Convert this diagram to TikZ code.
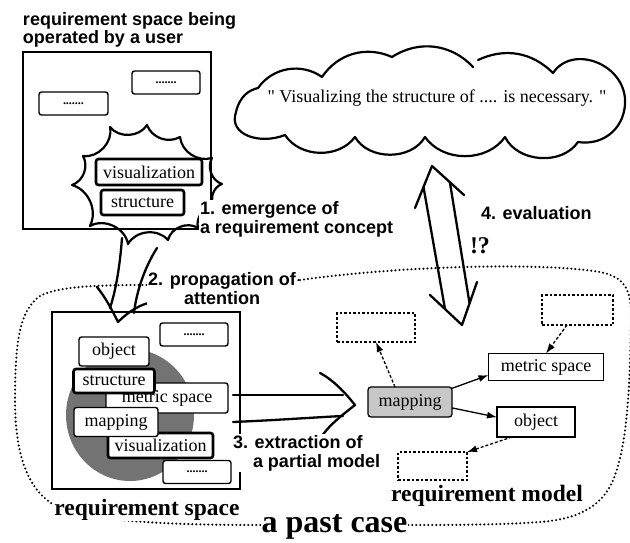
\documentclass[tikz,border=0pt]{standalone}
\usepackage{fontspec}
\setmainfont{Liberation Serif}
\setsansfont{Liberation Sans}
\newfontfamily\quotefont{Liberation Serif}
\usetikzlibrary{arrows.meta}
\begin{document}
\begin{tikzpicture}[x=1pt,y=-1pt,
  every node/.style={inner sep=0pt,outer sep=0pt},
  txt/.style={font=\fontsize{18}{18}\selectfont},
  rbox/.style={txt,draw,line width=1.4pt,rounded corners=2.5pt,fill=white},
  rboxthick/.style={rbox,line width=2.6pt},
  dotbox/.style={rbox,font=\bfseries\fontsize{12}{12}\selectfont},
  bigframe/.style={draw,line width=2.6pt},
  hand/.style={draw,line width=2.3pt,line cap=round,line join=round},
  lbl/.style={font=\sffamily\bfseries\fontsize{18}{19}\selectfont,fill=white,inner sep=1pt},
  mbox/.style={txt,draw,line width=1.3pt,fill=white},
  dbox/.style={draw,line width=1.3pt,dash pattern=on 2.5pt off 2pt},
  marrow/.style={line width=1.3pt,-{Latex[length=10pt,width=7pt]}},
  darrow/.style={marrow,dash pattern=on 3pt off 2pt},
  pastline/.style={line width=2.3pt,dash pattern=on 0pt off 4pt,line cap=round},
  biglbl/.style={font=\bfseries\fontsize{23.5}{23.5}\selectfont},
]
\useasboundingbox (0,0) rectangle (630,543);

% a past case dotted loop
\draw[pastline] (300,280) .. controls (400,266) and (540,262) .. (600,272)
  .. controls (625,277) and (632,290) .. (631,320)
  .. controls (630,380) and (628,440) .. (615,475)
  .. controls (605,505) and (580,519) .. (540,522)
  .. controls (500,525) and (450,525) .. (400,525) -- (265,525)
  .. controls (200,525) and (120,524) .. (70,512)
  .. controls (30,500) and (15,460) .. (15,400)
  .. controls (15,340) and (20,310) .. (40,296)
  .. controls (60,285) and (110,285) .. (155,285) -- cycle;

% cloud
\draw[hand,line width=2.2pt] (258,88) to[bend left=45] (322,77) to[bend left=40] (392,57) to[bend left=40] (473,67);
\draw[hand,line width=2.2pt] (478,60) to[bend left=35] (553,73)
  .. controls (575,40) and (640,70) .. (622,118)
  .. controls (615,135) and (598,145) .. (578,142)
  to[bend left=60] (505,137) to[bend left=55] (425,137) to[bend left=60] (355,137) to[bend left=55] (285,135)
  .. controls (260,145) and (228,135) .. (236,112)
  .. controls (240,95) and (250,90) .. (258,88);
\node[font=\quotefont\fontsize{18}{18}\selectfont] (ctext) at (437,98) {" Visualizing the structure of .... is necessary. "};

% requirement space operated by a user
\node[bigframe,minimum width=188pt,minimum height=177pt] (opbox) at (117,140.5) {};
\node[dotbox,minimum width=69pt,minimum height=23pt] (od1) at (73.5,103.5) {.......};
\node[dotbox,minimum width=68pt,minimum height=23pt] (od2) at (166,82.5) {.......};
\draw[hand,line width=2.2pt] (110,127) to[bend right=55] (147,125) to[bend right=50] (180,137)
  to[bend right=50] (212,158) to[bend right=50] (222,184) to[bend right=50] (214,206)
  to[bend right=50] (198,228) to[bend right=55] (168,240) to[bend right=55] (128,244)
  to[bend right=55] (90,226) to[bend right=50] (72,185) to[bend right=50] (83,156)
  to[bend right=55] (110,127) -- cycle;
\node[rboxthick,minimum width=106pt,minimum height=26pt] (bvis) at (149,172) {visualization};
\node[rboxthick,minimum width=83pt,minimum height=25pt] (bstr) at (142.5,202.5) {structure};

% propagation arrow
\coordinate (pa1) at (122,238); \coordinate (pa2) at (110,308);
\coordinate (pb1) at (157,248); \coordinate (pb2) at (134,313);
\coordinate (ph1) at (97,287); \coordinate (ptip) at (118,322); \coordinate (ph2) at (153,302);
\draw[hand] (pa1) .. controls (120,265) and (116,290) .. (pa2);
\draw[hand] (pb1) .. controls (143,270) and (136,295) .. (pb2);
\draw[hand] (ph1) .. controls (106,298) and (113,312) .. (ptip) .. controls (128,312) and (140,304) .. (ph2);

% requirement space
\node[bigframe,minimum width=188pt,minimum height=177pt] (rsbox) at (146,400.5) {};
\fill[black!55] (130,415) ellipse [x radius=64pt, y radius=66pt];
\node[dotbox,minimum width=68pt,minimum height=23pt] (rd1) at (194,334.5) {.......};
\node[rbox,minimum width=70pt,minimum height=29pt] (robj) at (114,351.5) {object};
\node[rbox,minimum width=122pt,minimum height=30pt] (rmet) at (167,398) {metric space};
\node[rboxthick,minimum width=81pt,minimum height=24pt] (rstr) at (114,381) {structure};
\node[rboxthick,minimum width=105pt,minimum height=25pt] (rvis) at (160.5,445.5) {visualization};
\node[rbox,minimum width=84pt,minimum height=29pt] (rmap) at (116,422) {mapping};
\node[dotbox,minimum width=68pt,minimum height=23pt] (rd2) at (197,472) {.......};

% extraction arrow
\coordinate (ea1) at (233,395); \coordinate (ea2) at (343,395);
\coordinate (eb1) at (233,422); \coordinate (eb2) at (343,416);
\coordinate (eh1) at (320,373); \coordinate (etip) at (355,405); \coordinate (eh2) at (322,436);
\draw[hand] (ea1) -- (ea2);
\draw[hand] (eb1) .. controls (280,420) and (320,417) .. (eb2);
\draw[hand] (eh1) .. controls (335,381) and (347,395) .. (etip) .. controls (345,413) and (330,424) .. (eh2);

% requirement model
\node[mbox,rounded corners=3pt,fill=black!22,minimum width=84pt,minimum height=30pt] (mmap) at (410,402) {mapping};
\node[mbox,minimum width=115pt,minimum height=27pt] (mmet) at (546,367) {metric space};
\node[mbox,minimum width=78pt,minimum height=30pt] (mobj) at (536,422) {object};
\node[dbox,minimum width=78pt,minimum height=29pt] (dA) at (376,327.5) {};
\node[dbox,minimum width=71pt,minimum height=30pt] (dB) at (577.5,310) {};
\node[dbox,minimum width=69pt,minimum height=28pt] (dC) at (432.5,466) {};
\draw[marrow] (mmap.18) -- (mmet.188);
\draw[marrow] (mmap.352) -- (mobj.173);
\draw[darrow] (mmap.135) -- (dA.south);
\draw[darrow] (dB.235) -- (mmet.north);
\draw[darrow] (mobj.212) -- (dC.22);

% evaluation double arrow
\coordinate (vt) at (432,166); \coordinate (vl1) at (415,208); \coordinate (vr1) at (464,195);
\coordinate (vls1) at (423.5,187); \coordinate (vls2) at (445,309);
\coordinate (vrs1) at (450,183); \coordinate (vrs2) at (469.5,303);
\coordinate (vb) at (462,325); \coordinate (vl2) at (430,295); \coordinate (vr2) at (477,282);
\draw[hand] (vl1) -- (vt) -- (vr1);
\draw[hand] (vls1) -- (vls2);
\draw[hand] (vrs1) -- (vrs2);
\draw[hand] (vl2) -- (vb) -- (vr2);

% labels
\node[font=\sffamily\bfseries\fontsize{18}{14.5}\selectfont,align=left,anchor=north west] (title) at (23,12.6) {requirement space being\\operated by a user};
\node[lbl,align=left,anchor=north west] (lab1) at (199,200) {1. emergence of\\a requirement concept};
\node[lbl,align=center,anchor=north] (lab2) at (222,271) {2. propagation of\\attention};
\node[lbl,align=left,anchor=north west] (lab3) at (232,434) {3. extraction of\\\hspace*{20pt}a partial model};
\node[lbl,anchor=base west] (lab4) at (480,219) {4. evaluation};
\node[font=\bfseries\fontsize{24}{24}\selectfont] (excl) at (480,246) {!?};
\node[biglbl,fill=white,inner sep=1pt,anchor=base] (rslbl) at (147,515) {requirement space};
\node[biglbl,anchor=base] (rmlbl) at (487,501) {requirement model};
\node[font=\bfseries\fontsize{32}{32}\selectfont,fill=white,inner sep=1pt,anchor=base] (pclbl) at (334.5,532) {a past case};
\end{tikzpicture}
\end{document}
